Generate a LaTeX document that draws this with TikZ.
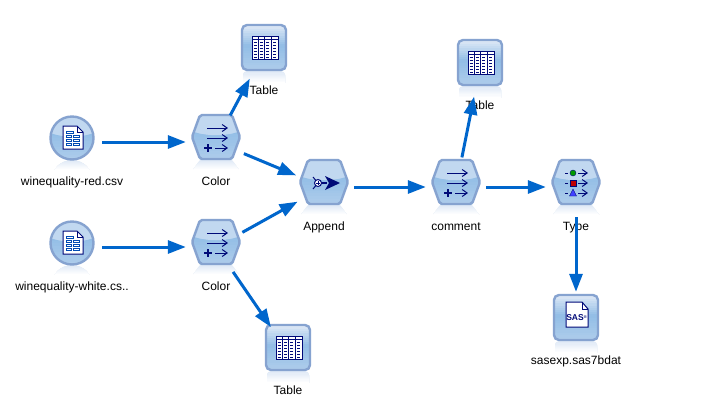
\documentclass[tikz,border=0pt]{standalone}
\usepackage{fontspec}
\setmainfont{Liberation Sans}
\usetikzlibrary{arrows.meta}
\definecolor{flowblue}{HTML}{0066CC}
\definecolor{rimblue}{HTML}{86A3D0}
\definecolor{paleblue}{HTML}{DFE9F6}
\definecolor{midblue}{HTML}{93BEE6}
\definecolor{lowblue}{HTML}{ADCCEB}
\definecolor{glyphnavy}{HTML}{000A78}
% ramp from the first colour at y0 to the second at y1, in ten plain bands
\newcommand\ramp[6]{%
  \foreach \stepno in {0,...,9} {
    \pgfmathsetmacro\mixval{100-\stepno*11}
    \fill[#5!\mixval!#6] (#1,{#3+(#4-#3)*\stepno/10}) rectangle (#2,#4);
  }}
\tikzset{
  port/.style={circle,minimum size=60pt,inner sep=0pt},
  caption/.style={font=\fontsize{12}{14}\selectfont,text=black,inner sep=0pt,text height=9pt,text depth=3pt,yshift=-1pt},
  flow/.style={draw=flowblue,line width=3pt,-{Triangle[length=18pt,width=13pt]}},
  rim/.style={draw=rimblue,line width=2.4pt},
  glyph/.style={draw=glyphnavy,line width=1pt},
  glypharrow/.style={glyph,-{Straight Barb[length=5pt,width=7pt]}},
  hexshape/.style={insert path={(-16,-27) -- (16,-27) -- (24,-5) -- (16,17) -- (-16,17) -- (-24,-5) -- cycle}},
  boxshape/.style={insert path={(-22,-27) rectangle (22,18)}},
  hexbody/.pic={
    \begin{scope}
      \clip (-16,18) -- (16,18) -- (23,28) -- (-23,28) -- cycle;
      \ramp{-24}{24}{18}{28}{paleblue}{white}
    \end{scope}
    \begin{scope}
      \clip[hexshape];
      \ramp{-25}{25}{-28}{-6}{paleblue}{paleblue!60!midblue}
      \clip (-25,-11) .. controls (-8,-5) and (8,-5) .. (25,-11) -- (25,18) -- (-25,18) -- cycle;
      \ramp{-25}{25}{-11}{18}{midblue}{lowblue}
    \end{scope}
    \draw[rim,rounded corners=2pt,hexshape];
  },
  roundbody/.pic={
    \begin{scope}
      \clip (0,38) circle (20);
      \ramp{-20}{20}{18}{28}{paleblue}{white}
    \end{scope}
    \begin{scope}
      \clip (0,-4) circle (21.5);
      \ramp{-22}{22}{-26}{-6}{paleblue}{paleblue!60!midblue}
      \clip (-22,-9) .. controls (-8,-4) and (8,-4) .. (22,-9) -- (22,18) -- (-22,18) -- cycle;
      \ramp{-22}{22}{-9}{18}{midblue}{lowblue}
    \end{scope}
    \draw[rim] (0,-4) circle (21.5);
  },
  boxbody/.pic={
    \begin{scope}
      \clip[rounded corners=4pt] (-21,19) rectangle (21,40);
      \ramp{-22}{22}{19}{31}{paleblue}{white}
    \end{scope}
    \begin{scope}
      \clip[rounded corners=5pt,boxshape];
      \ramp{-22}{22}{-27}{-6}{paleblue}{midblue}
      \ramp{-22}{22}{-6}{18}{midblue}{lowblue}
    \end{scope}
    \draw[rim,rounded corners=5pt,boxshape];
  },
  fieldglyph/.pic={
    \draw[glypharrow] (-9,-14) -- (12,-14);
    \draw[glypharrow] (-9,-4) -- (12,-4);
    \draw[glypharrow] (-1,6) -- (12,6);
    \draw[glyphnavy,line width=2.6pt] (-12,6) -- (-4,6) (-8,2) -- (-8,10);
  },
  tableglyph/.pic={
    \draw[glyph,fill=white] (-12,-16) rectangle (14,7);
    \draw[glyph] (-12,-13) -- (14,-13);
    \foreach \colx in {-6,0.5,7} \draw[glyph] (\colx,-16) -- (\colx,7);
    \foreach \rowy in {-10,-7,-4,-1,2,5}
      \foreach \colx in {-9,-2.75,3.75,10.5}
        \draw[glyphnavy,line width=0.6pt] (\colx-1.5,\rowy) -- (\colx+1.5,\rowy);
  },
  pageglyph/.pic={
    \draw[glyph,fill=white] (-9,-16) -- (5,-16) -- (11,-10) -- (11,7) -- (-9,7) -- cycle;
    \draw[glyph] (5,-16) -- (5,-10) -- (11,-10);
    \foreach \rowy/\cola/\colb in {-10/-6/1,-6/-6/-1,-6/1/7,-2/-6/-1,-2/1/7,2/-6/-1,2/1/7}
      \draw[draw=flowblue!70!glyphnavy,line width=0.7pt] (\cola,\rowy-1) rectangle (\colb,\rowy+1);
  },
  appendglyph/.pic={
    \draw[glyph] (-6,-4) -- (-11,-10) (-6,-4) -- (-11,2);
    \fill[glyphnavy] (1,-11) -- (16,-4) -- (1,3) -- (5,-4) -- cycle;
    \draw[glyphnavy,line width=1.6pt] (-3,-4) -- (3,-4);
    \draw[glyph,fill=white] (-6,-4) circle (3.5);
    \draw[glyphnavy,line width=0.7pt] (-8,-4) -- (-4,-4) (-6,-6) -- (-6,-2);
  },
  typeglyph/.pic={
    \foreach \rowy in {-14,-4,6} {
      \draw[glyph] (-11,\rowy) -- (-8,\rowy);
      \draw[glypharrow] (2,\rowy) -- (12,\rowy);
    }
    \draw[draw=glyphnavy,fill=green!60!black] (-3,-14) circle (3);
    \draw[draw=glyphnavy,fill=red!75!black] (-6,-7) rectangle (0,-1);
    \draw[draw=glyphnavy,fill=blue!75!white] (-6.5,9) -- (-3,2) -- (0.5,9) -- cycle;
  },
  sasglyph/.pic={
    \draw[glyph,fill=white] (-10,-20) -- (6,-20) -- (12,-13) -- (12,5) -- (-10,5) -- cycle;
    \draw[glyph] (6,-20) -- (6,-13) -- (12,-13);
    \node[text=glyphnavy,inner sep=0pt,font=\fontsize{8.5}{9}\bfseries\selectfont] at (0.5,-4.5) {SAS\raisebox{2pt}{\fontsize{4}{4}\selectfont ®}};
  },
}
\begin{document}
\begin{tikzpicture}[x=1pt,y=-1pt]
\fill[white] (0,0) rectangle (702,416);
\useasboundingbox (0,0) rectangle (702,416);
% source nodes
\pic at (72,142) {roundbody};
\pic at (72,142) {pageglyph};
\node[port] (red) at (72,142) {};
\node[caption] (redtext) at (72,181) {winequality-red.csv};
\pic at (72,247) {roundbody};
\pic at (72,247) {pageglyph};
\node[port] (white) at (72,247) {};
\node[caption] (whitetext) at (72,286) {winequality-white.cs..};
% field nodes
\pic at (216,142) {hexbody};
\pic at (216,142) {fieldglyph};
\node[port] (colora) at (216,142) {};
\node[caption] (coloratext) at (216,181) {Color};
\pic at (216,247) {hexbody};
\pic at (216,247) {fieldglyph};
\node[port] (colorb) at (216,247) {};
\node[caption] (colorbtext) at (216,286) {Color};
\pic at (324,187) {hexbody};
\pic at (324,187) {appendglyph};
\node[port] (append) at (324,187) {};
\node[caption] (appendtext) at (324,226) {Append};
\pic at (456,187) {hexbody};
\pic at (456,187) {fieldglyph};
\node[port] (comment) at (456,187) {};
\node[caption] (commenttext) at (456,226) {comment};
\pic at (576,187) {hexbody};
\pic at (576,187) {typeglyph};
\node[port] (typenode) at (576,187) {};
\node[caption] (typetext) at (576,226) {Type};
% output nodes
\pic at (264,52) {boxbody};
\pic at (264,52) {tableglyph};
\node[port] (tablea) at (264,52) {};
\node[caption] (tableatext) at (264,90) {Table};
\pic at (480,67) {boxbody};
\pic at (480,67) {tableglyph};
\node[port] (tableb) at (480,67) {};
\node[caption] (tablebtext) at (480,105) {Table};
\pic at (288,352) {boxbody};
\pic at (288,352) {tableglyph};
\node[port] (tablec) at (288,352) {};
\node[caption] (tablectext) at (288,390) {Table};
\pic at (576,322) {boxbody};
\pic at (576,322) {sasglyph};
\node[port] (sasexp) at (576,322) {};
\node[caption] (sasexptext) at (576,360) {sasexp.sas7bdat};
% links
\draw[flow] (red) -- (colora);
\draw[flow] (white) -- (colorb);
\draw[flow] (colora) -- (tablea);
\draw[flow] (colora) -- (append);
\draw[flow] (colorb) -- (append);
\draw[flow] (colorb) -- (tablec);
\draw[flow] (append) -- (comment);
\draw[flow] (comment) -- (tableb);
\draw[flow] (comment) -- (typenode);
\draw[flow] (typenode) -- (sasexp);
\end{tikzpicture}
\end{document}
